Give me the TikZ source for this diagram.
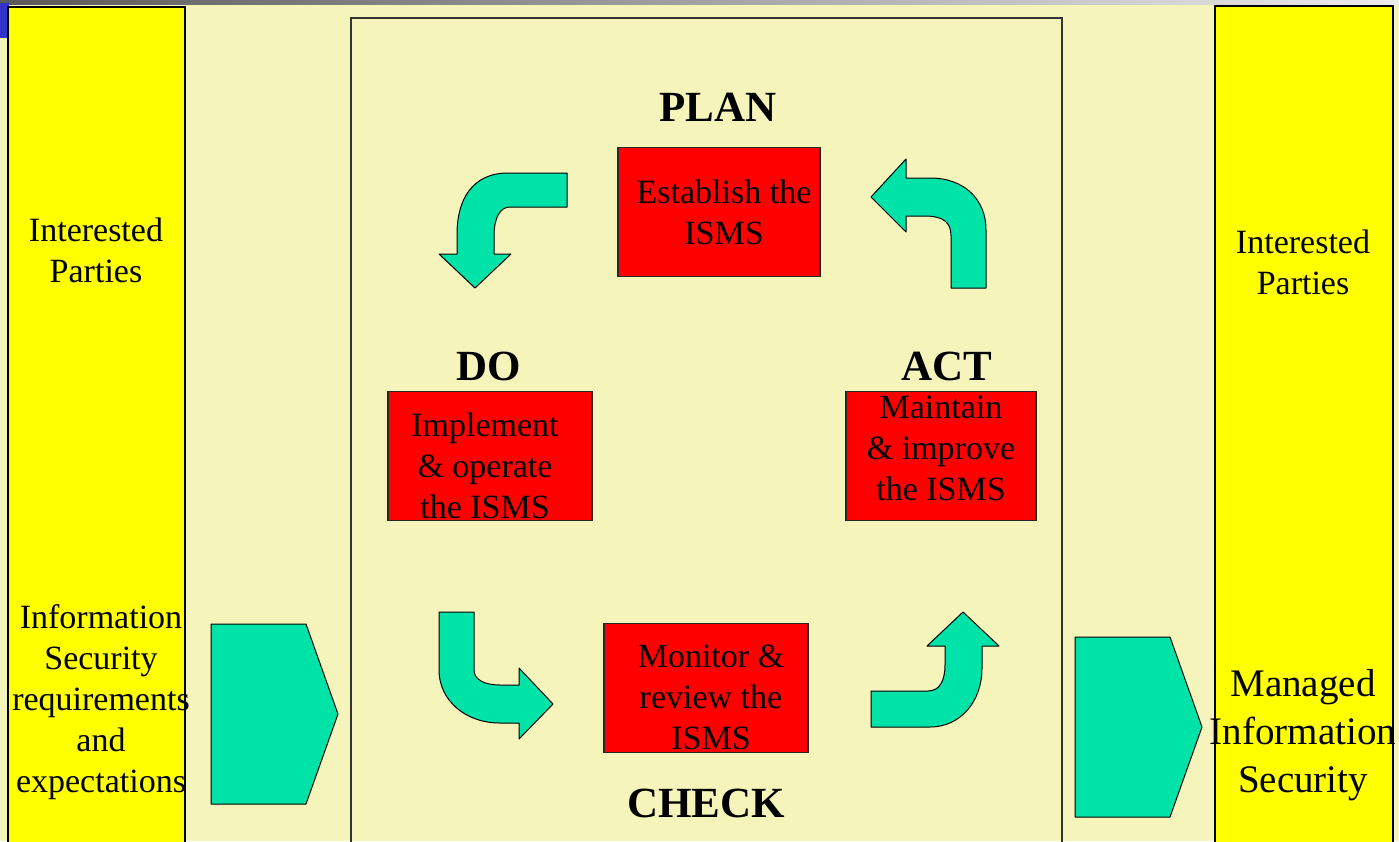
\documentclass[tikz,border=0pt]{standalone}
\usepackage{fontspec}
\setmainfont{Liberation Serif}
\definecolor{slidebg}{RGB}{245,244,187}
\definecolor{sideyellow}{RGB}{255,255,0}
\definecolor{arrowteal}{RGB}{0,227,168}
\definecolor{stepred}{RGB}{255,0,0}
\definecolor{cornerblue}{RGB}{51,51,204}
\begin{document}
\begin{tikzpicture}[x=1pt,y=-1pt,
    sidepanel/.style={draw=black, line width=1.2pt, fill=sideyellow},
    redbox/.style={draw=black!85, line width=1.2pt, fill=stepred, minimum width=#1, minimum height=129pt, inner sep=0pt},
    blockarrow/.style={draw=black, line width=1pt, fill=arrowteal, line join=round},
    phase/.style={font=\fontsize{43}{50}\selectfont\bfseries, inner sep=0pt},
    boxtext/.style={align=center, font=\fontsize{34}{41}\selectfont, inner sep=0pt},
    sidetext/.style={align=center, font=\fontsize{34}{41}\selectfont, inner sep=0pt}]

  \useasboundingbox (0,0) rectangle (1399,841);
  \clip (0,0) rectangle (1399,841);
  \fill[slidebg] (0,0) rectangle (1399,841);

  % slide header strip
  \shade[left color=gray!70!black, right color=gray!15] (0,0) rectangle (1399,4);
  \fill[cornerblue] (0,3) rectangle (9,38);

  % side panels and centre frame
  \filldraw[sidepanel] (8,7) rectangle (185,860);
  \filldraw[sidepanel] (1215,6) rectangle (1393,860);
  \draw[black!80, line width=1.2pt] (351,18) rectangle (1062,860);

  % red step boxes
  \node[redbox=202pt] (establish) at (719,212) {};
  \node[redbox=204pt] (implement) at (490,456) {};
  \node[redbox=190pt] (maintain) at (941,456) {};
  \node[redbox=204pt] (monitor) at (706,688) {};

  \node[boxtext] (establishtxt) at (724,212) {Establish the\\ISMS};
  \node[boxtext] (implementtxt) at (485,466) {Implement\\\& operate\\the ISMS};
  \node[boxtext] (maintaintxt) at (941,448) {Maintain\\\& improve\\the ISMS};
  \node[boxtext] (monitortxt) at (711,697) {Monitor \&\\review the\\ISMS};

  % phase labels
  \node[phase] (plan) at (718,107) {PLAN};
  \node[phase] (do) at (489,366) {DO};
  \node[phase] (act) at (947,366) {ACT};
  \node[phase] (check) at (706,803) {CHECK};

  % side texts
  \node[sidetext] (leftparties) at (96,250) {Interested\\Parties};
  \node[sidetext] (rightparties) at (1303,262) {Interested\\Parties};
  \node[sidetext] (requirements) at (101,702) {Information\\Security\\requirements\\and\\expectations};
  \node[sidetext, font=\fontsize{39}{48}\selectfont] (managed) at (1303,735) {Managed\\Information\\Security};

  % input and output arrows
  \filldraw[blockarrow] (211,624) -- (306,624) -- (338,714) -- (306,804) -- (211,804) -- cycle;
  \filldraw[blockarrow] (1075,637) -- (1170,637) -- (1202,727) -- (1170,817) -- (1075,817) -- cycle;

  % plan to do
  \filldraw[blockarrow] (567,173) -- (508,173) .. controls (472,173) and (457,200) .. (457,234)
    -- (457,254) -- (439,254) -- (475,288) -- (511,254) -- (494,254) -- (494,236)
    .. controls (494,218) and (500,207) .. (510,207) -- (567,207) -- cycle;

  % act to plan
  \filldraw[blockarrow] (986,288) -- (986,230) .. controls (986,200) and (965,178) .. (930,178)
    -- (906,178) -- (906,159) -- (871,197) -- (906,232) -- (906,216) -- (928,216)
    .. controls (943,217) and (951,222) .. (951,236) -- (951,288) -- cycle;

  % do to check
  \filldraw[blockarrow] (439,612) -- (474,612) -- (474,670) .. controls (474,680) and (485,685) .. (500,685)
    -- (519,685) -- (519,668) -- (553,704) -- (519,739) -- (519,723) -- (500,723)
    .. controls (465,723) and (439,700) .. (439,670) -- cycle;

  % check to act
  \filldraw[blockarrow] (871,691) -- (928,691) .. controls (940,691) and (945,680) .. (945,665)
    -- (945,646) -- (927,646) -- (963,612) -- (999,646) -- (982,646) -- (982,668)
    .. controls (982,702) and (960,727) .. (930,727) -- (871,727) -- cycle;

\end{tikzpicture}
\end{document}
